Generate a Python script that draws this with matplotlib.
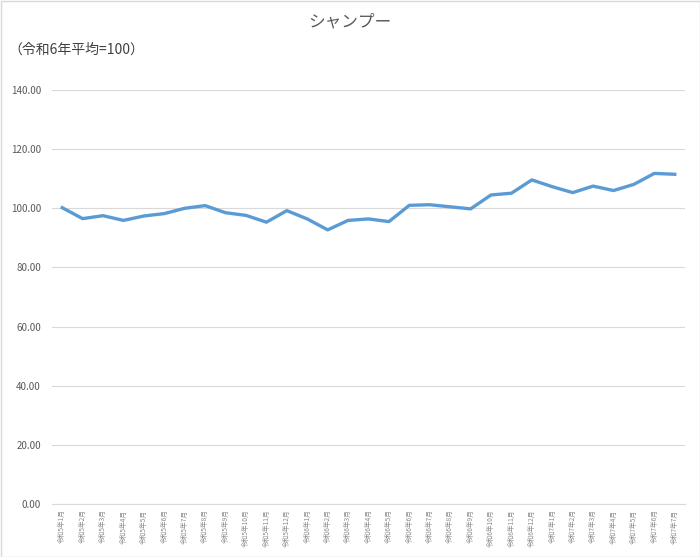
import matplotlib
matplotlib.use("Agg")
import matplotlib.pyplot as plt
from matplotlib.patches import Rectangle

plt.rcParams['font.family'] = ['Noto Sans CJK JP', 'DejaVu Sans']

months = ["令和5年1月", "令和5年2月", "令和5年3月", "令和5年4月", "令和5年5月", "令和5年6月",
          "令和5年7月", "令和5年8月", "令和5年9月", "令和5年10月", "令和5年11月", "令和5年12月",
          "令和6年1月", "令和6年2月", "令和6年3月", "令和6年4月", "令和6年5月", "令和6年6月",
          "令和6年7月", "令和6年8月", "令和6年9月", "令和6年10月", "令和6年11月", "令和6年12月",
          "令和7年1月", "令和7年2月", "令和7年3月", "令和7年4月", "令和7年5月", "令和7年6月",
          "令和7年7月"]
values = [100.2, 96.5, 97.5, 95.9, 97.4, 98.2, 100.0, 100.9, 98.5, 97.6, 95.3, 99.2,
          96.4, 92.7, 95.9, 96.4, 95.5, 101.0, 101.2, 100.5, 99.8, 104.5, 105.1, 109.6,
          107.3, 105.3, 107.5, 106.0, 108.1, 111.8, 111.5]
yticks = [0, 20, 40, 60, 80, 100, 120, 140]

fig = plt.figure(figsize=(7.0, 5.57), dpi=100)
ax = fig.add_axes([52/700, 53/557, 633/700, 414/557])

x = list(range(len(months)))
ax.plot(x, values, color="#5b9bd5", linewidth=2.4, solid_joinstyle="round", zorder=3)

ax.set_xlim(-0.5, len(months) - 0.5)
ax.set_ylim(0, 140)
ax.set_yticks(yticks)
ax.set_yticklabels([f"{v:.2f}" for v in yticks], color="#595959", fontsize=7)
ax.set_xticks(x)
ax.set_xticklabels(months, rotation=90, fontsize=4.8, color="#8c8c8c")
ax.tick_params(axis="both", length=0, pad=8)
ax.tick_params(axis="x", pad=4)
ax.grid(axis="y", color="#d9d9d9", linewidth=0.8)
ax.set_axisbelow(True)
for s in ["top", "right", "left"]:
    ax.spines[s].set_visible(False)
ax.spines["bottom"].set_color("#d9d9d9")
ax.spines["bottom"].set_linewidth(0.8)

fig.text(0.5, 1 - 22/557, "シャンプー", ha="center", va="center", fontsize=12, color="#595959")
fig.text(8/700, 1 - 50/557, "（令和6年平均=100）", ha="left", va="center", fontsize=10, color="#404040")

fig.patches.append(Rectangle((0.5/700, 0.5/557), 699/700, 556/557, transform=fig.transFigure,
                             fill=False, edgecolor="#d9d9d9", linewidth=1))

fig.savefig("out.png", dpi=100)
